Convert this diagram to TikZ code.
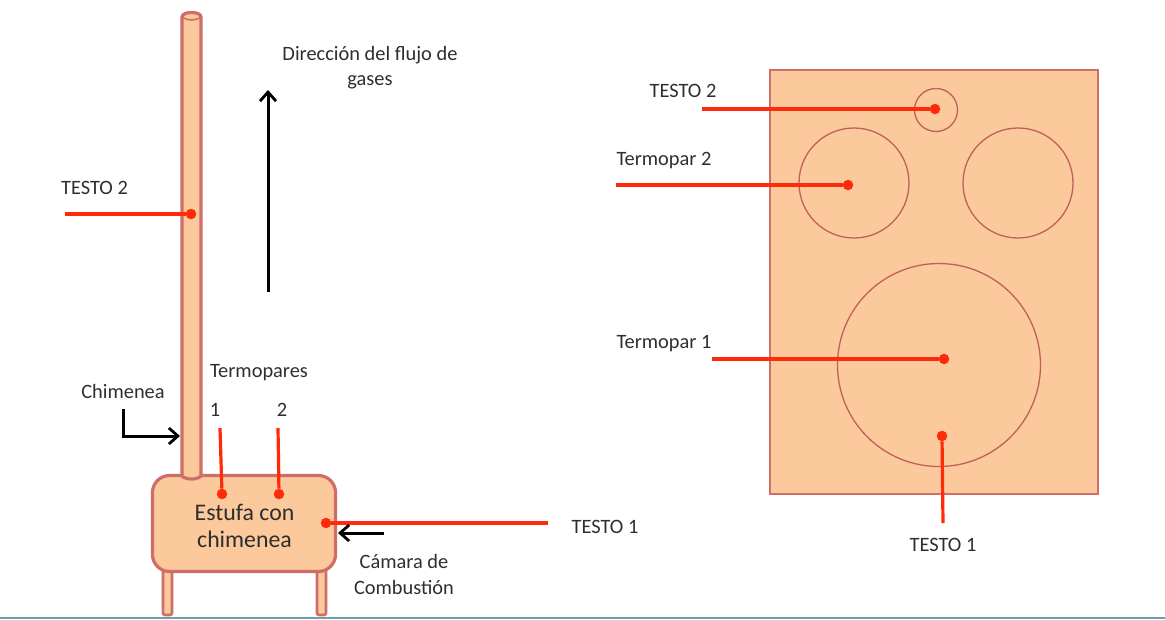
\documentclass[tikz,border=0pt]{standalone}
\usepackage{fontspec}
\setmainfont{Carlito}
\usetikzlibrary{arrows.meta}
\definecolor{fillpeach}{HTML}{FBC99C}
\definecolor{edgered}{HTML}{CF6E68}
\definecolor{thinred}{HTML}{C0605A}
\definecolor{probe}{HTML}{FF2A0A}
\definecolor{txt}{HTML}{2E2E2E}
\definecolor{floorline}{HTML}{6FA0A8}
\tikzset{
  x=1pt,y=-1pt,
  body/.style={draw=edgered,fill=fillpeach,line width=3.2pt},
  plate/.style={draw=edgered,fill=fillpeach,line width=1.5pt},
  ring/.style={draw=thinred,fill=fillpeach,line width=1.3pt,circle,inner sep=0pt},
  label/.style={text=txt,font=\fontsize{20.4}{25.5}\selectfont,inner sep=0pt,align=center},
  dot/.style={circle,fill=probe,inner sep=0pt,minimum size=10.5pt},
  probeline/.style={draw=probe,line width=3.2pt},
  blackarrow/.style={draw=black,line width=3pt,-{Straight Barb[length=9pt,width=16pt,line width=2.8pt]}},
}
\begin{document}
\begin{tikzpicture}
\useasboundingbox (0,0) rectangle (1165,619);
% floor
\coordinate (fl) at (0,618); \coordinate (fr) at (1165,618);
\draw[floorline,line width=1.4pt] (fl) -- (fr);
% legs
\draw[body,line width=2.6pt,rounded corners=2pt] (163,565) rectangle (172,615);
\draw[body,line width=2.6pt,rounded corners=2pt] (317,565) rectangle (326,615);
% stove
\node[body,rounded corners=17pt,minimum width=183pt,minimum height=96pt,inner sep=0pt] (stove) at (244,523.5) {};
% chimney
\draw[body] (182,17) -- (182,476) .. controls (186,480) and (197,480) .. (201,476) -- (201,17) .. controls (201,11) and (182,11) .. (182,17) -- cycle;
\draw[edgered,line width=1.6pt] (182,17) .. controls (187,21) and (196,21) .. (201,17);
% plate
\node[plate,minimum width=328pt,minimum height=424pt,inner sep=0pt] (plate) at (934,282) {};
\node[ring,minimum size=43pt] (small) at (936,110) {};
\node[ring,minimum size=110pt] (leftb) at (854,183) {};
\node[ring,minimum size=110pt] (rightb) at (1018,183) {};
\node[ring,minimum size=203pt] (big) at (939,365) {};
% dots
\node[dot] (dTc1) at (222,494) {};
\node[dot] (dTc2) at (279,494) {};
\node[dot] (dT1) at (326,523) {};
\node[dot] (dT2) at (191,214) {};
\node[dot] (dpT2) at (935,109) {};
\node[dot] (dpTc2) at (848,185) {};
\node[dot] (dpTc1) at (944,359) {};
\node[dot] (dpT1) at (942,436) {};
% free ends
\coordinate (a) at (220,428); \coordinate (b) at (278,428);
\coordinate (c) at (548,523); \coordinate (d) at (65,214);
\coordinate (e) at (702,109); \coordinate (f) at (616,185);
\coordinate (g) at (712,359); \coordinate (h) at (943,523);
\draw[probeline] (a) -- (dTc1);
\draw[probeline] (b) -- (dTc2);
\draw[probeline] (c) -- (dT1);
\draw[probeline] (d) -- (dT2);
\draw[probeline] (e) -- (dpT2);
\draw[probeline] (f) -- (dpTc2);
\draw[probeline] (g) -- (dpTc1);
\draw[probeline] (h) -- (dpT1);
% black arrows
\coordinate (up0) at (268,292); \coordinate (up1) at (268,90);
\draw[blackarrow] (up0) -- (up1);
\coordinate (ch0) at (123,409); \coordinate (ch1) at (123,436); \coordinate (ch2) at (180,436);
\draw[blackarrow] (ch0) -- (ch1) -- (ch2);
\coordinate (ca0) at (384,533); \coordinate (ca1) at (338,533);
\draw[blackarrow] (ca0) -- (ca1);
% labels
\node[label] (l1) at (370,67.5) {Dirección del flujo de\\gases};
\node[label] (l2) at (94.5,188) {TESTO 2};
\node[label] (l3) at (259,373) {Termopares};
\node[label] (l4) at (123,391.5) {Chimenea};
\node[label] (l5) at (215,410) {1};
\node[label] (l6) at (282,410) {2};
\node[label,font=\fontsize{23.8}{27}\selectfont] (l7) at (244.5,526) {Estufa con\\chimenea};
\node[label] (l8) at (605,527) {TESTO 1};
\node[label] (l9) at (404,574.5) {Cámara de\\Combustión};
\node[label] (l10) at (683,91) {TESTO 2};
\node[label] (l11) at (664,161) {Termopar 2};
\node[label] (l12) at (664,344) {Termopar 1};
\node[label] (l13) at (943,545) {TESTO 1};
\end{tikzpicture}
\end{document}
